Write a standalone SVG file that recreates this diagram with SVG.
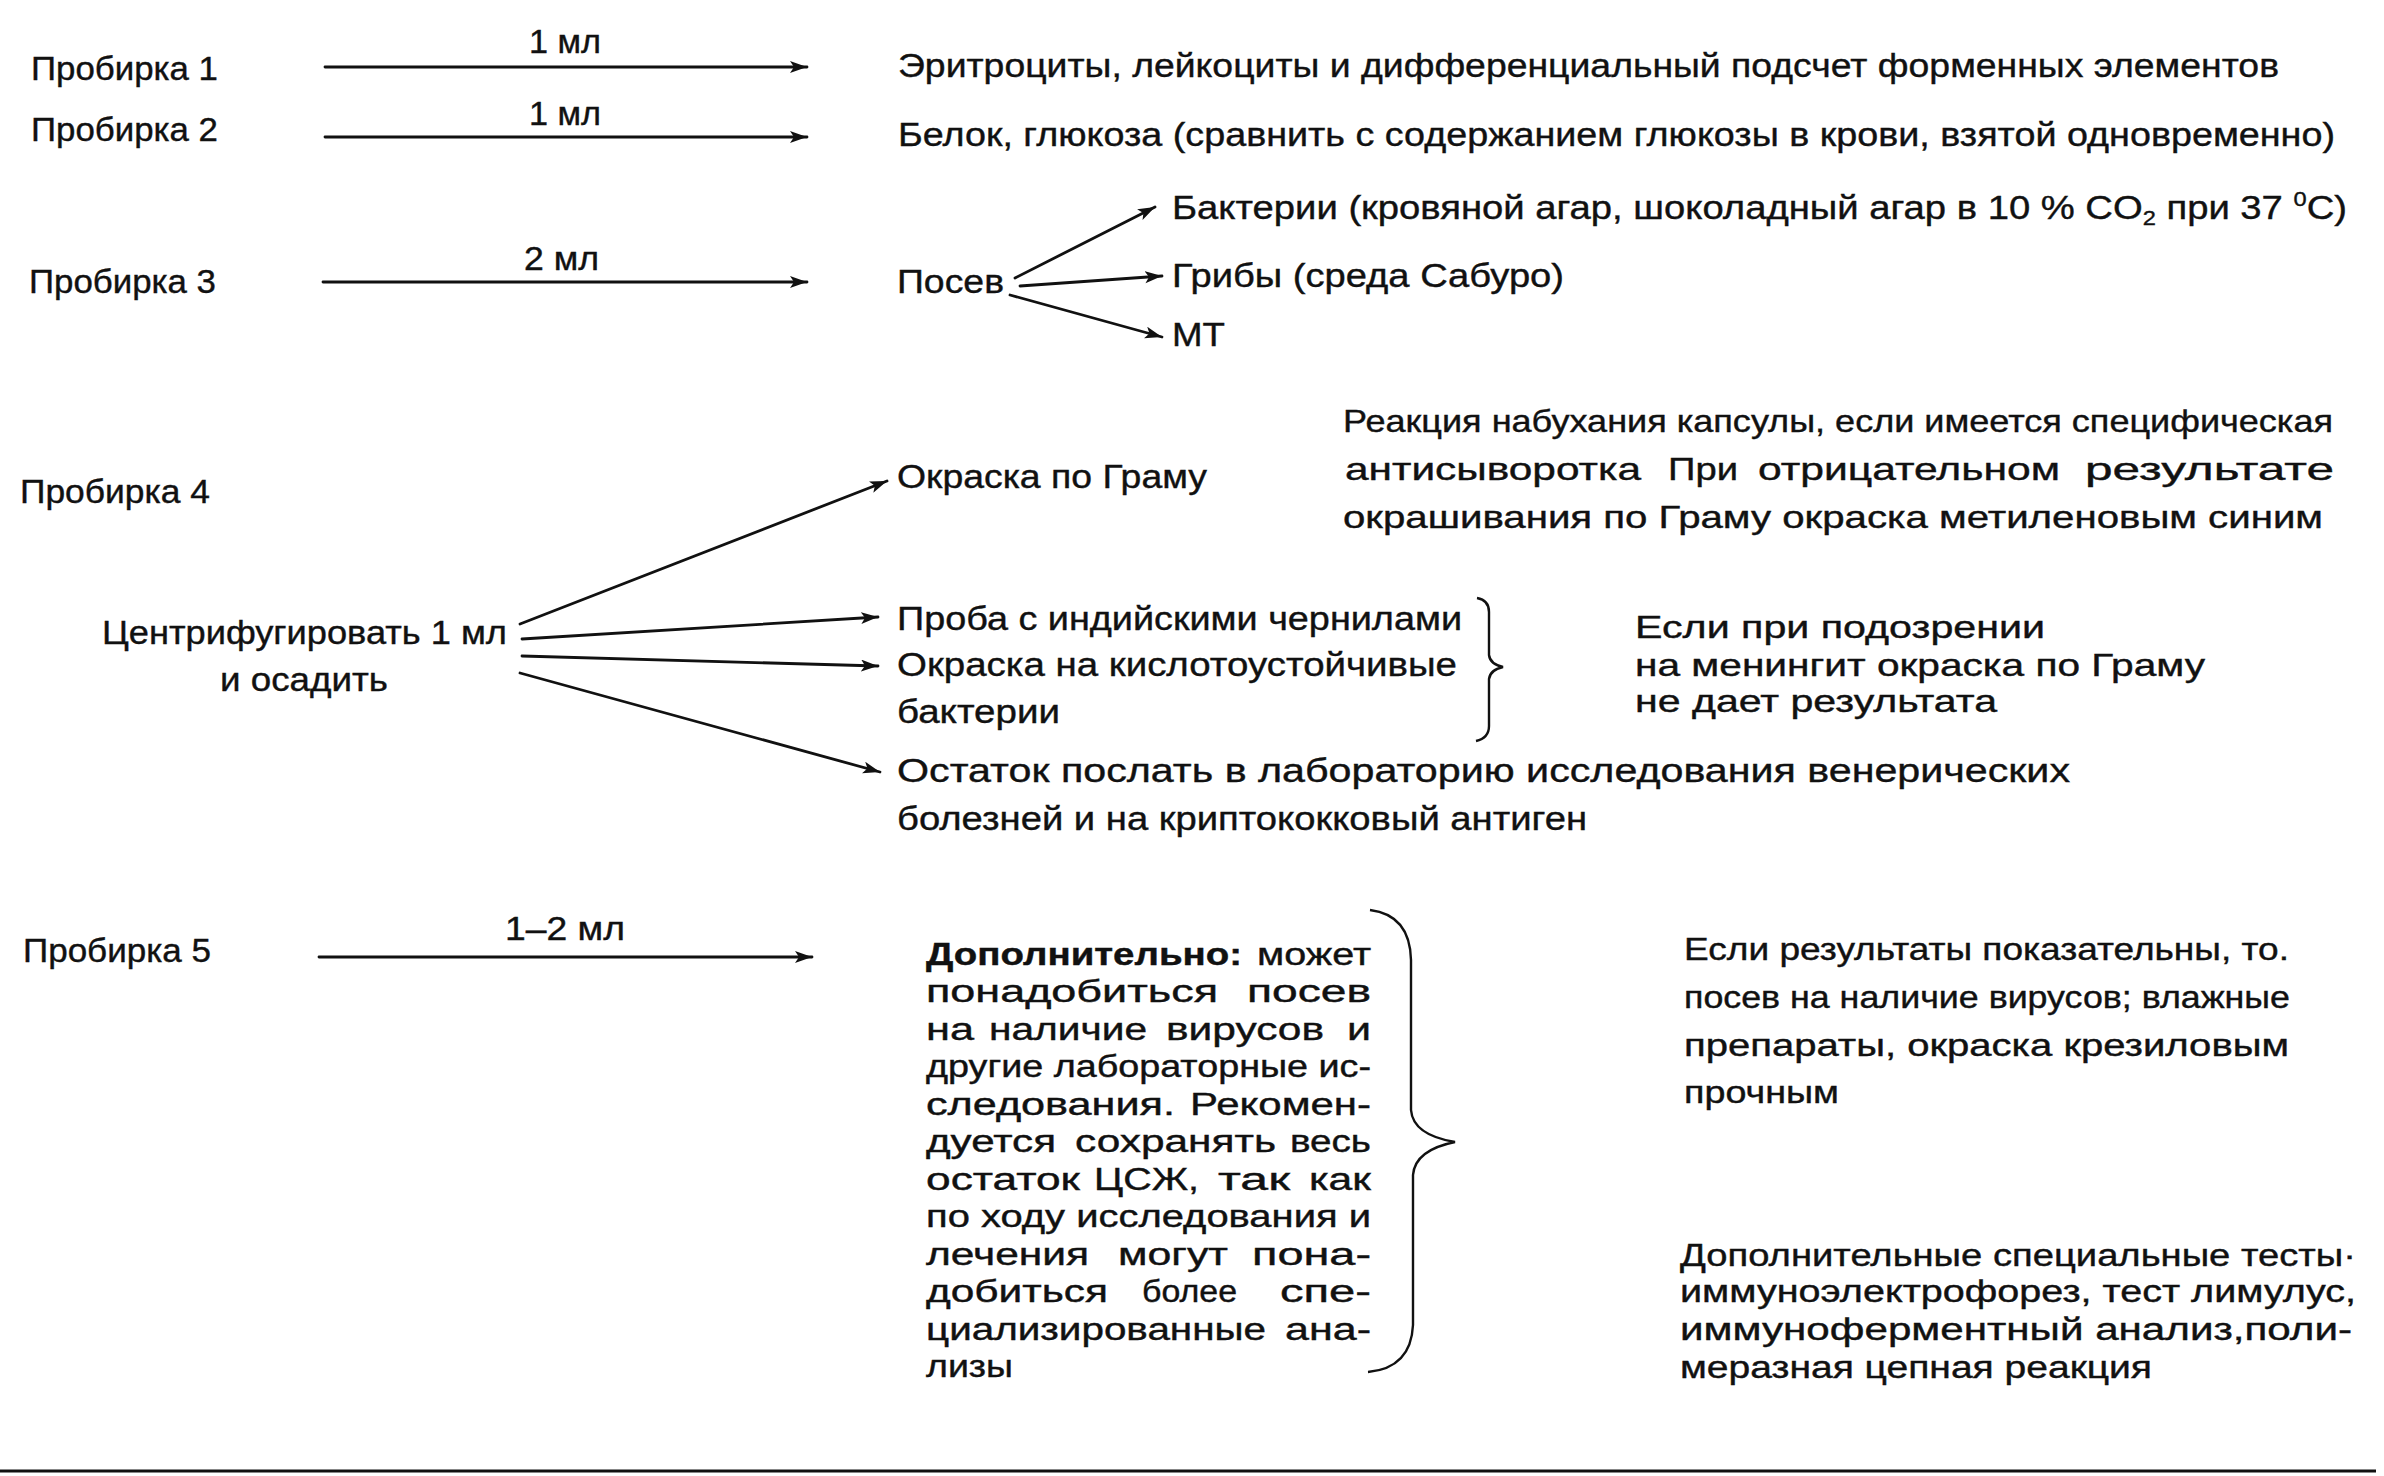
<svg xmlns="http://www.w3.org/2000/svg" width="2384" height="1476" viewBox="0 0 2384 1476">
<style>
text{font-family:"Liberation Sans",Arial,Helvetica,sans-serif;fill:#111;font-size:34px;stroke:#111;stroke-width:0.4}
.s{font-size:32px}
.b{font-size:31px}
.bold{font-weight:bold}
.c{fill:none;stroke:#111;stroke-width:2.8;stroke-linecap:round}
.br{fill:none;stroke:#111;stroke-width:2.4}
</style>
<defs>
<marker id="ah" markerUnits="userSpaceOnUse" markerWidth="20" markerHeight="14" refX="17" refY="6" orient="auto">
<path d="M0,0 L17,6 L0,12 L4,6 Z" fill="#111"/>
</marker>
</defs>
<rect width="2384" height="1476" fill="#fff"/>

<g id="tube1">
<text x="31" y="80" textLength="187" lengthAdjust="spacingAndGlyphs">Пробирка 1</text>
<text x="529" y="53" textLength="72" lengthAdjust="spacingAndGlyphs">1 мл</text>
</g>
<g id="result1">
<text x="898" y="77" textLength="1381" lengthAdjust="spacingAndGlyphs">Эритроциты, лейкоциты и дифференциальный подсчет форменных элементов</text>
</g>

<g id="tube2">
<text x="31" y="141" textLength="187" lengthAdjust="spacingAndGlyphs">Пробирка 2</text>
<text x="529" y="125" textLength="72" lengthAdjust="spacingAndGlyphs">1 мл</text>
</g>
<g id="result2">
<text x="898" y="146" textLength="1437" lengthAdjust="spacingAndGlyphs">Белок, глюкоза (сравнить с содержанием глюкозы в крови, взятой одновременно)</text>
</g>

<g id="tube3">
<text x="29" y="293" textLength="187" lengthAdjust="spacingAndGlyphs">Пробирка 3</text>
<text x="524" y="270" textLength="75" lengthAdjust="spacingAndGlyphs">2 мл</text>
</g>
<g id="posev">
<text x="897" y="293" textLength="107" lengthAdjust="spacingAndGlyphs">Посев</text>
</g>
<g id="bacteria">
<text x="1172" y="219" textLength="1175" lengthAdjust="spacingAndGlyphs">Бактерии (кровяной агар, шоколадный агар в 10 % CO<tspan font-size="21" dy="6">2</tspan><tspan dy="-6"> при 37 </tspan><tspan font-size="21" dy="-13">0</tspan><tspan dy="13">C)</tspan></text>
</g>
<g id="fungi">
<text x="1172" y="287" textLength="392" lengthAdjust="spacingAndGlyphs">Грибы (среда Сабуро)</text>
</g>
<g id="mt">
<text x="1172" y="346" textLength="53" lengthAdjust="spacingAndGlyphs">МТ</text>
</g>

<g id="tube4">
<text x="20" y="503" textLength="190" lengthAdjust="spacingAndGlyphs">Пробирка 4</text>
</g>
<g id="centrifuge">
<text x="102" y="644" textLength="405" lengthAdjust="spacingAndGlyphs">Центрифугировать 1 мл</text>
<text x="220" y="691" textLength="168" lengthAdjust="spacingAndGlyphs">и осадить</text>
</g>
<g id="gram">
<text x="897" y="488" textLength="310" lengthAdjust="spacingAndGlyphs">Окраска по Граму</text>
</g>
<g id="gram-note">
<text class="s" x="1343" y="432" textLength="990" lengthAdjust="spacingAndGlyphs">Реакция набухания капсулы, если имеется специфическая</text>
<text class="s" y="480"><tspan x="1345" textLength="296" lengthAdjust="spacingAndGlyphs">антисыворотка</tspan><tspan x="1668" textLength="70" lengthAdjust="spacingAndGlyphs">При</tspan><tspan x="1758" textLength="302" lengthAdjust="spacingAndGlyphs">отрицательном</tspan><tspan x="2085" textLength="249" lengthAdjust="spacingAndGlyphs">результате</tspan></text>
<text class="s" x="1343" y="528" textLength="980" lengthAdjust="spacingAndGlyphs">окрашивания по Граму окраска метиленовым синим</text>
</g>
<g id="ink">
<text x="897" y="630" textLength="565" lengthAdjust="spacingAndGlyphs">Проба с индийскими чернилами</text>
</g>
<g id="acidfast">
<text x="897" y="676" textLength="560" lengthAdjust="spacingAndGlyphs">Окраска на кислотоустойчивые</text>
<text x="897" y="723" textLength="163" lengthAdjust="spacingAndGlyphs">бактерии</text>
</g>
<g id="brace1">
<path class="br" d="M1477,598 Q1489,600 1489,612 L1489,655 Q1490,664 1503,667 Q1490,670 1489,679 L1489,726 Q1489,738 1476,741"/>
</g>
<g id="meningitis-note">
<text class="s" x="1635" y="638" textLength="410" lengthAdjust="spacingAndGlyphs">Если при подозрении</text>
<text class="s" x="1635" y="676" textLength="570" lengthAdjust="spacingAndGlyphs">на менингит окраска по Граму</text>
<text class="s" x="1635" y="712" textLength="362" lengthAdjust="spacingAndGlyphs">не дает результата</text>
</g>
<g id="remainder">
<text x="897" y="782" textLength="1173" lengthAdjust="spacingAndGlyphs">Остаток  послать в лабораторию исследования венерических</text>
<text x="897" y="830" textLength="690" lengthAdjust="spacingAndGlyphs">болезней и на криптококковый антиген</text>
</g>

<g id="tube5">
<text x="23" y="962" textLength="188" lengthAdjust="spacingAndGlyphs">Пробирка 5</text>
<text x="505" y="940" textLength="120" lengthAdjust="spacingAndGlyphs">1–2 мл</text>
</g>
<g id="additional">
<text class="b" y="965"><tspan class="bold" x="926" textLength="316" lengthAdjust="spacingAndGlyphs">Дополнительно:</tspan><tspan x="1257" textLength="114" lengthAdjust="spacingAndGlyphs">может</tspan></text>
<text class="b" y="1002"><tspan x="926" textLength="292" lengthAdjust="spacingAndGlyphs">понадобиться</tspan><tspan x="1247" textLength="124" lengthAdjust="spacingAndGlyphs">посев</tspan></text>
<text class="b" y="1040"><tspan x="926" textLength="48" lengthAdjust="spacingAndGlyphs">на</tspan><tspan x="989" textLength="158" lengthAdjust="spacingAndGlyphs">наличие</tspan><tspan x="1166" textLength="158" lengthAdjust="spacingAndGlyphs">вирусов</tspan><tspan x="1347" textLength="24" lengthAdjust="spacingAndGlyphs">и</tspan></text>
<text class="b" x="926" y="1077" textLength="445" lengthAdjust="spacingAndGlyphs">другие лабораторные ис-</text>
<text class="b" y="1115"><tspan x="926" textLength="249" lengthAdjust="spacingAndGlyphs">следования.</tspan><tspan x="1190" textLength="181" lengthAdjust="spacingAndGlyphs">Рекомен-</tspan></text>
<text class="b" y="1152"><tspan x="926" textLength="130" lengthAdjust="spacingAndGlyphs">дуется</tspan><tspan x="1075" textLength="201" lengthAdjust="spacingAndGlyphs">сохранять</tspan><tspan x="1290" textLength="81" lengthAdjust="spacingAndGlyphs">весь</tspan></text>
<text class="b" y="1190"><tspan x="926" textLength="154" lengthAdjust="spacingAndGlyphs">остаток</tspan><tspan x="1094" textLength="105" lengthAdjust="spacingAndGlyphs">ЦСЖ,</tspan><tspan x="1218" textLength="72" lengthAdjust="spacingAndGlyphs">так</tspan><tspan x="1309" textLength="62" lengthAdjust="spacingAndGlyphs">как</tspan></text>
<text class="b" x="926" y="1227" textLength="445" lengthAdjust="spacingAndGlyphs">по ходу исследования и</text>
<text class="b" y="1265"><tspan x="926" textLength="163" lengthAdjust="spacingAndGlyphs">лечения</tspan><tspan x="1118" textLength="110" lengthAdjust="spacingAndGlyphs">могут</tspan><tspan x="1252" textLength="119" lengthAdjust="spacingAndGlyphs">пона-</tspan></text>
<text class="b" y="1302"><tspan x="926" textLength="182" lengthAdjust="spacingAndGlyphs">добиться</tspan><tspan x="1142" textLength="95" lengthAdjust="spacingAndGlyphs">более</tspan><tspan x="1280" textLength="91" lengthAdjust="spacingAndGlyphs">спе-</tspan></text>
<text class="b" y="1340"><tspan x="926" textLength="340" lengthAdjust="spacingAndGlyphs">циализированные</tspan><tspan x="1285" textLength="86" lengthAdjust="spacingAndGlyphs">ана-</tspan></text>
<text class="b" x="926" y="1377" textLength="87" lengthAdjust="spacingAndGlyphs">лизы</text>
</g>
<g id="brace2">
<path class="br" d="M1370,910 Q1410,915 1411,960 L1411,1110 Q1413,1135 1455,1142 Q1415,1150 1413,1175 L1413,1325 Q1411,1368 1368,1372"/>
</g>
<g id="positive-note">
<text class="b" x="1684" y="960" textLength="605" lengthAdjust="spacingAndGlyphs">Если результаты показательны, то.</text>
<text class="b" x="1684" y="1008" textLength="606" lengthAdjust="spacingAndGlyphs">посев на наличие вирусов; влажные</text>
<text class="b" x="1684" y="1056" textLength="605" lengthAdjust="spacingAndGlyphs">препараты, окраска крезиловым</text>
<text class="b" x="1684" y="1103" textLength="155" lengthAdjust="spacingAndGlyphs">прочным</text>
</g>
<g id="special-tests">
<text class="b" x="1680" y="1266" textLength="676" lengthAdjust="spacingAndGlyphs">Дополнительные специальные тесты·</text>
<text class="b" x="1680" y="1302" textLength="676" lengthAdjust="spacingAndGlyphs">иммуноэлектрофорез, тест лимулус,</text>
<text class="b" x="1680" y="1340" textLength="672" lengthAdjust="spacingAndGlyphs">иммуноферментный анализ,поли-</text>
<text class="b" x="1680" y="1378" textLength="472" lengthAdjust="spacingAndGlyphs">меразная цепная реакция</text>
</g>

<g id="connectors">
<path class="c" d="M325,67 L807,67" marker-end="url(#ah)"/>
<path class="c" d="M325,137 L807,137" marker-end="url(#ah)"/>
<path class="c" d="M323,282 L807,282" marker-end="url(#ah)"/>
<path class="c" d="M1015,278 L1155,207" marker-end="url(#ah)"/>
<path class="c" d="M1020,286 L1162,276" marker-end="url(#ah)"/>
<path class="c" d="M1010,295 L1162,337" marker-end="url(#ah)"/>
<path class="c" d="M520,624 L887,481" marker-end="url(#ah)"/>
<path class="c" d="M522,639 L878,617" marker-end="url(#ah)"/>
<path class="c" d="M522,656 L878,666" marker-end="url(#ah)"/>
<path class="c" d="M520,673 L880,772" marker-end="url(#ah)"/>
<path class="c" d="M319,957 L812,957" marker-end="url(#ah)"/>
</g>
<g id="rule">
<path d="M0,1471 L2376,1471" stroke="#111" stroke-width="3"/>
</g>
</svg>
